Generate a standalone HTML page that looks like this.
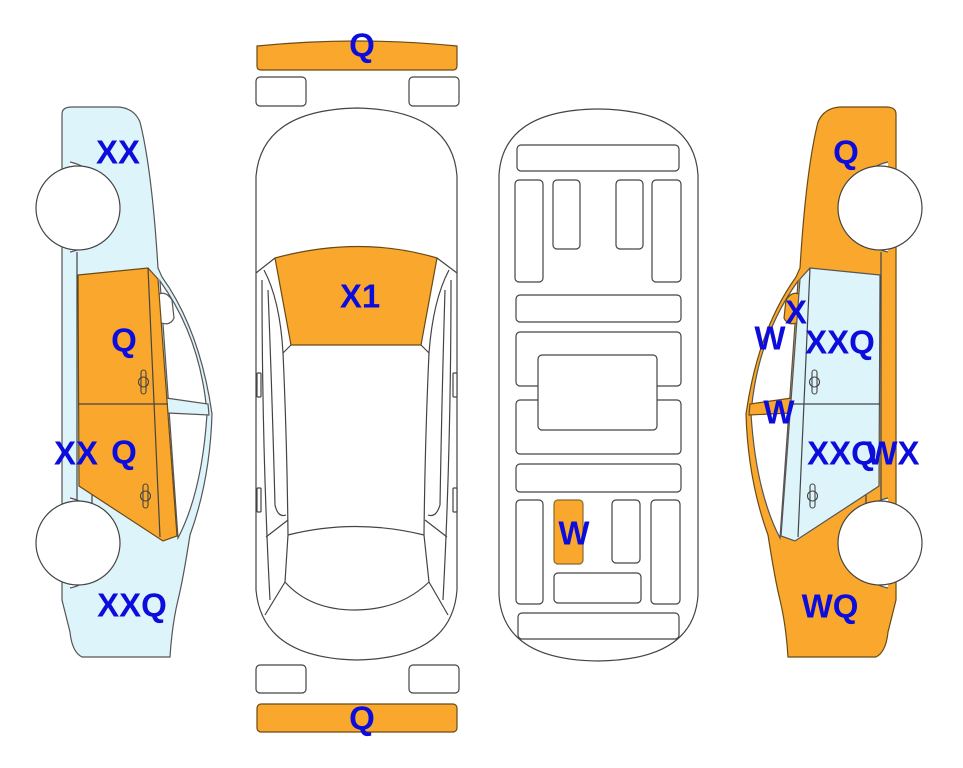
<!DOCTYPE html>
<html><head><meta charset="utf-8"><style>
html,body{margin:0;padding:0;background:#fff;}
svg{display:block;}
text{font-family:"Liberation Sans",Arial,sans-serif;font-weight:bold;font-size:33px;fill:#0c0cdc;text-anchor:middle;dominant-baseline:central;}
#L{--b:#ddf4fb;--bs:#555;--d:#f9a82d;--ds:#6b4a16;--m:#fff;--ms:#555;}
#R{--b:#f9a82d;--bs:#6b4a16;--d:#ddf4fb;--ds:#555;--m:#f9a82d;--ms:#6b4a16;}
</style></head><body>
<svg width="963" height="768" viewBox="0 0 963 768" xmlns="http://www.w3.org/2000/svg">
<defs>
<g id="side">
  <path style="fill:var(--b);stroke:var(--bs);stroke-width:1.2" d="M62,114 Q62,107 72,107 L118,107 Q134,108 140,122 Q152,170 158,268 L162,277 Q200,330 212,414 Q210,480 190,535 Q183,580 178,600 Q172,625 170,657 L82,657 Q72,652 70,632 L62,600 Z"/>
  <path fill="#fff" d="M160,281 Q201,338 207,414 Q202,492 178,538 Z" stroke="#555" stroke-width="1.2"/>
  <path style="fill:var(--b);stroke:var(--bs);stroke-width:1.2" d="M166,398 L208,404 L209,415 L168,413 Z"/>
  <path style="fill:var(--m);stroke:var(--ms);stroke-width:1.2" d="M156,296 Q165,289 172,300 L174,318 Q170,327 159,322 Z"/>
  <path style="fill:var(--d);stroke:var(--ds);stroke-width:1.2" d="M78,275 L148,268 L158,279 L177,536 L163,541 L79,486 Z"/>
  <path d="M78,404 L168,404 M148,268 L160,537 M77,252 L77,500 M92,495 L92,505" stroke="#444" stroke-width="1.2" fill="none"/>
  <g stroke="#444" stroke-width="1.1" fill="none">
    <rect x="141" y="370" width="5" height="24" rx="2.5"/><circle cx="143.5" cy="382" r="5"/>
    <rect x="143" y="484" width="5" height="24" rx="2.5"/><circle cx="145.5" cy="496" r="5"/>
  </g>
  <path d="M70,162 A46,46 0 0 1 70,252 M70,498 A46,46 0 0 1 70,588" stroke="#555" stroke-width="1.2" fill="#fff"/>
  <circle cx="78" cy="208" r="42" fill="#fff" stroke="#444" stroke-width="1.2"/>
  <circle cx="78" cy="543" r="42" fill="#fff" stroke="#444" stroke-width="1.2"/>
</g>
</defs>
<g id="L"><use href="#side"/></g>
<g id="R" transform="translate(958,0) scale(-1,1)"><use href="#side"/></g>

<!-- top view -->
<g stroke="#444" stroke-width="1.2" fill="#fff">
  <path d="M257,46 Q357,36 457,46 L457,66 Q457,70 453,70 L261,70 Q257,70 257,66 Z" fill="#f9a82d" stroke="#6b4a16"/>
  <rect x="256" y="77" width="50" height="29" rx="4"/>
  <rect x="409" y="77" width="50" height="29" rx="4"/>
  <rect x="256" y="665" width="50" height="28" rx="4"/>
  <rect x="409" y="665" width="50" height="28" rx="4"/>
  <rect x="257" y="704" width="200" height="28" rx="4" fill="#f9a82d" stroke="#6b4a16"/>
  <path d="M256,176 Q262,110 357,108 Q452,110 457,176 L457,590 Q452,658 357,660 Q262,658 256,590 Z"/>
  <path d="M275,258 Q360,235 437,258 L421,345 L291,345 Z" fill="#f9a82d" stroke="#6b4a16"/>
  <path d="M256,273 L275,258 M457,273 L437,258 M291,345 L283,353 M421,345 L429,353" fill="none"/>
  <path d="M283,353 Q287,440 288,535 M429,353 Q425,440 424,535" fill="none"/>
  <path d="M288,535 Q355,518 424,535 L429,582 Q400,610 355,610 Q310,610 285,582 Z" fill="none"/>
  <path d="M262,280 Q262,450 270,600 M451,280 Q451,450 443,600" fill="none"/>
  <path d="M268,290 Q272,390 275,505 Q278,518 286,515 M445,290 Q442,390 440,505 Q436,518 428,515" fill="none"/>
  <path d="M264,270 Q280,300 283,353 M449,270 Q433,300 429,353" fill="none"/>
  <path d="M266,537 L288,520 M447,537 L425,520 M265,615 L285,582 M448,615 L429,582" fill="none"/>
  <rect x="257" y="373" width="4" height="24" rx="1"/>
  <rect x="453" y="373" width="4" height="24" rx="1"/>
  <rect x="257" y="488" width="4" height="24" rx="1"/>
  <rect x="453" y="488" width="4" height="24" rx="1"/>
</g>

<!-- underside -->
<g stroke="#444" stroke-width="1.2" fill="#fff">
  <path d="M499,175 Q503,110 598,109 Q694,110 698,175 L698,595 Q694,660 598,661 Q503,660 499,595 Z"/>
  <rect x="517" y="145" width="162" height="26" rx="4"/>
  <rect x="515" y="180" width="28" height="102" rx="4"/>
  <rect x="553" y="180" width="27" height="69" rx="4"/>
  <rect x="616" y="180" width="27" height="69" rx="4"/>
  <rect x="652" y="180" width="29" height="102" rx="4"/>
  <rect x="516" y="295" width="165" height="27" rx="4"/>
  <rect x="516" y="332" width="165" height="54" rx="4"/>
  <rect x="516" y="400" width="165" height="54" rx="4"/>
  <rect x="538" y="355" width="119" height="75" rx="4"/>
  <rect x="516" y="464" width="165" height="28" rx="4"/>
  <rect x="516" y="500" width="27" height="104" rx="4"/>
  <rect x="554" y="500" width="29" height="64" rx="4" fill="#f9a82d" stroke="#8a6a2a"/>
  <rect x="612" y="500" width="28" height="63" rx="4"/>
  <rect x="651" y="500" width="29" height="104" rx="4"/>
  <rect x="554" y="573" width="87" height="30" rx="4"/>
  <rect x="518" y="613" width="161" height="26" rx="4"/>
</g>

<text x="362" y="45">Q</text>
<text x="362" y="718">Q</text>
<text x="360" y="296">X1</text>
<text x="574" y="533">W</text>

<text x="118" y="152">XX</text>
<text x="124" y="340">Q</text>
<text x="76" y="453">XX</text>
<text x="124" y="452">Q</text>
<text x="132" y="605">XXQ</text>

<text x="846" y="152">Q</text>
<text x="796" y="312">X</text>
<text x="770" y="338">W</text>
<text x="840" y="342">XXQ</text>
<text x="779" y="412">W</text>
<text x="842" y="453">XXQ</text>
<text x="893" y="453">WX</text>
<text x="830" y="606">WQ</text>
</svg>
</body></html>
